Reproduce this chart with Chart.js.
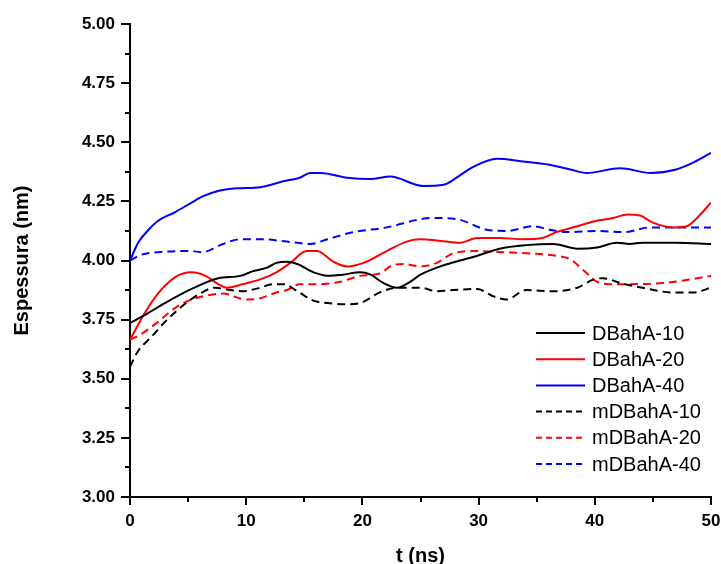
<html>
  <head>
    <title>Espessura vs t</title>
  </head>
  <style>
body {
    margin: 0;
    background: #ffffff;
}
.wrap {
    width: 721px;
    height: 564px;
}
  </style>
  <body>
    <script src="https://cdn.jsdelivr.net/npm/chart.js@4.4.1/dist/chart.umd.min.js"></script>
    <div class="wrap">
      <canvas id="myChart" width="721" height="564"></canvas>
    </div>
  <script>

        // values (t in ns, thickness in nm)
        const SERIES_NAMES = ["DBahA-10", "DBahA-20", "DBahA-40", "mDBahA-10", "mDBahA-20", "mDBahA-40"];
        const X_TICKS = [0, 10, 20, 30, 40, 50];
        const Y_TICKS = [3.00, 3.25, 3.50, 3.75, 4.00, 4.25, 4.50, 4.75, 5.00];

        const t_DBahA10 = [0, 1.3, 3, 5.3, 7.6, 9.5, 10.6, 11.8, 12.6, 13.5, 14.4, 15.8, 17.2, 18.3, 19.8, 20.7, 21.8, 23, 24.1, 25, 27, 28.4, 29.9, 31.8, 34.1, 36.4, 38.5, 40.2, 41.9, 43, 44.1, 47, 50];
        const v_DBahA10 = [3.735, 3.77, 3.82, 3.88, 3.925, 3.935, 3.955, 3.97, 3.99, 3.995, 3.985, 3.95, 3.935, 3.94, 3.95, 3.94, 3.905, 3.885, 3.91, 3.94, 3.98, 4.00, 4.02, 4.05, 4.065, 4.07, 4.05, 4.055, 4.075, 4.07, 4.075, 4.075, 4.07];

        const t_DBahA20 = [0, 1.3, 2.4, 3.9, 5.3, 6.5, 7.6, 8.3, 9.7, 11.2, 12.6, 13.8, 15.2, 16.1, 17.5, 18.7, 20.1, 22.1, 23.8, 25, 26.4, 28.4, 29.9, 31.8, 33.8, 35.5, 36.7, 38.5, 39.9, 41.6, 42.8, 43.9, 45, 46.7, 47.9, 49, 50];
        const v_DBahA20 = [3.665, 3.78, 3.86, 3.93, 3.95, 3.935, 3.90, 3.885, 3.90, 3.92, 3.95, 3.99, 4.04, 4.04, 3.995, 3.975, 3.99, 4.04, 4.08, 4.09, 4.085, 4.075, 4.095, 4.095, 4.09, 4.095, 4.12, 4.145, 4.165, 4.18, 4.195, 4.19, 4.16, 4.14, 4.145, 4.19, 4.245];

        const t_DBahA40 = [0, 0.7, 1.6, 2.4, 3.9, 5.3, 6.3, 7.5, 9.2, 11.2, 13.2, 14.6, 15.5, 16.4, 18.7, 20.7, 22.4, 25.2, 27, 28.1, 29.5, 31.6, 33.6, 36.1, 37.9, 39.3, 42.2, 44.8, 47, 48.5, 50];
        const v_DBahA40 = [4.00, 4.075, 4.13, 4.167, 4.205, 4.245, 4.272, 4.293, 4.305, 4.31, 4.335, 4.35, 4.37, 4.37, 4.35, 4.345, 4.355, 4.315, 4.32, 4.35, 4.395, 4.43, 4.42, 4.405, 4.385, 4.37, 4.39, 4.37, 4.385, 4.415, 4.455];

        const t_mDBahA10 = [0, 0.6, 1.9, 3, 4.7, 6.2, 7.3, 8.6, 9.7, 11.2, 12.3, 13.2, 14.4, 15.8, 17, 18.7, 19.8, 21.5, 23, 25, 26.4, 27.8, 29.9, 31.2, 32.4, 34.1, 36.4, 38.5, 39.9, 40.7, 42.2, 44.1, 46.7, 48.5, 50];
        const v_mDBahA10 = [3.55, 3.61, 3.68, 3.74, 3.815, 3.865, 3.885, 3.875, 3.87, 3.885, 3.90, 3.90, 3.87, 3.83, 3.82, 3.815, 3.82, 3.865, 3.885, 3.885, 3.87, 3.875, 3.88, 3.85, 3.835, 3.875, 3.87, 3.885, 3.92, 3.925, 3.905, 3.885, 3.865, 3.865, 3.885];

        const t_mDBahA20 = [0, 1, 2.4, 3.9, 5.3, 7, 8, 10, 11.2, 12.6, 13.5, 14.6, 16.4, 18.1, 19.8, 21.5, 22.6, 23.5, 25, 26.4, 27.8, 29.9, 32.1, 34.4, 36.7, 37.9, 39, 40.2, 41.3, 43, 45.9, 48.2, 50];
        const v_mDBahA20 = [3.665, 3.69, 3.74, 3.80, 3.835, 3.855, 3.86, 3.835, 3.84, 3.865, 3.875, 3.90, 3.90, 3.91, 3.935, 3.945, 3.98, 3.985, 3.975, 3.99, 4.03, 4.04, 4.035, 4.03, 4.02, 4.005, 3.96, 3.91, 3.90, 3.90, 3.905, 3.92, 3.935];

        const t_mDBahA40 = [0, 1, 2.4, 5.3, 6.2, 8, 9.5, 11.2, 13.5, 15.5, 17, 19.2, 22.1, 25, 25.8, 28.1, 30.7, 32.4, 34.7, 36.1, 37.6, 40.2, 42.5, 44.8, 47, 50];
        const v_mDBahA40 = [4.00, 4.025, 4.035, 4.04, 4.035, 4.07, 4.09, 4.09, 4.08, 4.07, 4.09, 4.12, 4.14, 4.175, 4.18, 4.175, 4.13, 4.125, 4.145, 4.13, 4.12, 4.125, 4.12, 4.14, 4.14, 4.14];

        const pts = (ts, vs) => ts.map((t, i) => ({ x: t, y: vs[i] }));

        const BLACK = "#000000";
        const RED = "#ff0000";
        const BLUE = "#0000ff";
        const DASH = [8, 5];

        const line = (label, data, color, dash) => ({
            label,
            data,
            borderColor: color,
            backgroundColor: color,
            borderWidth: 2,
            borderDash: dash,
            pointRadius: 0,
            cubicInterpolationMode: "monotone",
            fill: false,
        });

        const data = {
            datasets: [
                line(SERIES_NAMES[0], pts(t_DBahA10, v_DBahA10), BLACK, []),
                line(SERIES_NAMES[1], pts(t_DBahA20, v_DBahA20), RED, []),
                line(SERIES_NAMES[2], pts(t_DBahA40, v_DBahA40), BLUE, []),
                line(SERIES_NAMES[3], pts(t_mDBahA10, v_mDBahA10), BLACK, DASH),
                line(SERIES_NAMES[4], pts(t_mDBahA20, v_mDBahA20), RED, DASH),
                line(SERIES_NAMES[5], pts(t_mDBahA40, v_mDBahA40), BLUE, DASH),
            ]
        };

        // outward major + minor tick marks, and the legend in the lower right
        const originTicks = {
            id: "originTicks",
            afterDraw(chart) {
                const ctx = chart.ctx;
                const xs = chart.scales.x, ys = chart.scales.y;
                const a = chart.chartArea;
                ctx.save();
                ctx.strokeStyle = BLACK;
                ctx.lineWidth = 2;
                ctx.setLineDash([]);
                ctx.beginPath();
                for (let i = 0; i < X_TICKS.length; i++) {
                    const px = Math.round(xs.getPixelForValue(X_TICKS[i]));
                    ctx.moveTo(px, a.bottom); ctx.lineTo(px, a.bottom + 8);
                    if (i < X_TICKS.length - 1) {
                        const mx = Math.round(xs.getPixelForValue((X_TICKS[i] + X_TICKS[i + 1]) / 2));
                        ctx.moveTo(mx, a.bottom); ctx.lineTo(mx, a.bottom + 5);
                    }
                }
                for (let i = 0; i < Y_TICKS.length; i++) {
                    const py = Math.round(ys.getPixelForValue(Y_TICKS[i]));
                    ctx.moveTo(a.left, py); ctx.lineTo(a.left - 9, py);
                    if (i < Y_TICKS.length - 1) {
                        const my = Math.round(ys.getPixelForValue((Y_TICKS[i] + Y_TICKS[i + 1]) / 2));
                        ctx.moveTo(a.left, my); ctx.lineTo(a.left - 5, my);
                    }
                }
                ctx.stroke();

                // legend
                ctx.font = "20px 'Liberation Sans', Arial, sans-serif";
                ctx.textBaseline = "middle";
                ctx.textAlign = "left";
                const x0 = a.right - 175, x1 = a.right - 126, tx = a.right - 119;
                chart.data.datasets.forEach((ds, i) => {
                    const y = a.bottom - 164 + i * 26.2;
                    ctx.strokeStyle = ds.borderColor;
                    ctx.lineWidth = 2;
                    ctx.setLineDash(ds.borderDash.length ? [6, 4] : []);
                    ctx.beginPath();
                    ctx.moveTo(x0, y); ctx.lineTo(x1, y);
                    ctx.stroke();
                    ctx.fillStyle = BLACK;
                    ctx.fillText(ds.label, tx, y + 1);
                });
                ctx.restore();
            }
        };

        const tickFont = { family: "'Liberation Sans', Arial, sans-serif", size: 17, weight: "bold" };
        const titleFont = { family: "'Liberation Sans', Arial, sans-serif", size: 20, weight: "bold" };

        let config = {
            type: "line",
            data,
            options: {
                responsive: false,
                animation: false,
                layout: {
                    padding: { top: 24, right: 10, left: 0, bottom: 0 }
                },
                plugins: {
                    legend: { display: false },
                    tooltip: { enabled: false },
                },
                scales: {
                    x: {
                        type: "linear",
                        min: 0,
                        max: 50,
                        afterFit: (s) => { s.height = 67; s.paddingLeft = 0; s.paddingRight = 0; },
                        afterBuildTicks: (s) => { s.ticks = X_TICKS.map(v => ({ value: v })); },
                        ticks: { color: BLACK, font: tickFont, padding: 14, maxRotation: 0 },
                        grid: { display: false, drawTicks: false },
                        border: { display: true, color: BLACK, width: 2 },
                        title: { display: true, text: "t (ns)", color: BLACK, font: titleFont, padding: { top: 0, bottom: -4 } },
                    },
                    y: {
                        min: 3,
                        max: 5,
                        afterFit: (s) => { s.width = 130; s.paddingTop = 0; s.paddingBottom = 0; },
                        afterBuildTicks: (s) => { s.ticks = Y_TICKS.map(v => ({ value: v })); },
                        ticks: { color: BLACK, font: tickFont, padding: 15, callback: (v) => v.toFixed(2) },
                        grid: { display: false, drawTicks: false },
                        border: { display: true, color: BLACK, width: 2 },
                        title: { display: true, text: "Espessura (nm)", color: BLACK, font: titleFont, padding: { top: 10, bottom: 0 } },
                    },
                },
            },
            plugins: [originTicks]
        };

        const ctx = document.getElementById("myChart");
        let myChart = new Chart(ctx, config);
  </script>
  </body>
</html>
